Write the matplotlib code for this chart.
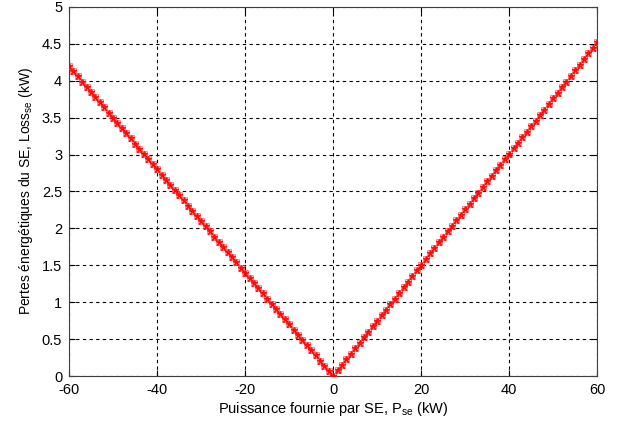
import matplotlib
matplotlib.use('Agg')
import matplotlib.pyplot as plt

plt.rcParams['font.family'] = ['Liberation Sans', 'DejaVu Sans']
plt.rcParams['mathtext.default'] = 'regular'
plt.rcParams['axes.unicode_minus'] = False

# Puissance fournie (kW)
p_neg = list(range(-60, 1))
p_pos = list(range(1, 61))

# Pertes (kW)
loss_neg = [4.20, 4.13, 4.06, 3.99, 3.92, 3.85, 3.78, 3.71, 3.64, 3.57,
            3.50, 3.43, 3.36, 3.29, 3.22, 3.15, 3.08, 3.01, 2.94, 2.87,
            2.80, 2.73, 2.66, 2.59, 2.52, 2.45, 2.38, 2.31, 2.24, 2.17,
            2.10, 2.03, 1.96, 1.89, 1.82, 1.75, 1.68, 1.61, 1.54, 1.47,
            1.40, 1.33, 1.26, 1.19, 1.12, 1.05, 0.98, 0.91, 0.84, 0.77,
            0.70, 0.63, 0.56, 0.49, 0.42, 0.35, 0.28, 0.21, 0.14, 0.07,
            0.00]
loss_pos = [0.08, 0.15, 0.23, 0.30, 0.38, 0.45, 0.53, 0.60, 0.68, 0.75,
            0.83, 0.90, 0.98, 1.05, 1.13, 1.20, 1.28, 1.36, 1.43, 1.51,
            1.58, 1.66, 1.73, 1.81, 1.88, 1.96, 2.03, 2.11, 2.18, 2.26,
            2.33, 2.41, 2.48, 2.56, 2.64, 2.71, 2.79, 2.86, 2.94, 3.01,
            3.09, 3.16, 3.24, 3.31, 3.39, 3.46, 3.54, 3.61, 3.69, 3.77,
            3.84, 3.92, 3.99, 4.07, 4.14, 4.22, 4.29, 4.37, 4.44, 4.52]

p = p_neg + p_pos
loss = loss_neg + loss_pos

fig = plt.figure(figsize=(6.28, 4.24), dpi=100)
ax = fig.add_axes([0.110, 0.1132, 0.841, 0.8703])

ax.plot(p, loss, color='red', lw=0.8, marker='s', ms=5, mfc='none',
        mec=(1, 0.35, 0.35), mew=0.7, alpha=0.7, zorder=3)
ax.plot(p, loss, color='red', lw=0, marker='*', ms=4.5, alpha=0.85, zorder=4)

ax.set_xlim(-60, 60)
ax.set_ylim(0, 5)
ax.set_xticks(range(-60, 61, 20))
ax.set_yticks([0, 0.5, 1, 1.5, 2, 2.5, 3, 3.5, 4, 4.5, 5])
ax.set_yticklabels(['0', '0.5', '1', '1.5', '2', '2.5', '3', '3.5', '4', '4.5', '5'])
ax.tick_params(direction='in', top=True, right=True, labelsize=10.5, length=4)
ax.tick_params(axis='x', pad=5)
ax.tick_params(axis='y', pad=5)
ax.grid(True, color='black', linestyle=(0, (3, 3)), linewidth=0.8)
for s in ax.spines.values():
    s.set_color('#404040')

ax.set_xlabel('Puissance fournie par SE, P$_{se}$ (kW)', fontsize=10.5, labelpad=2)
ax.set_ylabel('Pertes énergétiques du SE, Loss$_{se}$ (kW)', fontsize=10, labelpad=5)

fig.savefig('out.png', dpi=100)
